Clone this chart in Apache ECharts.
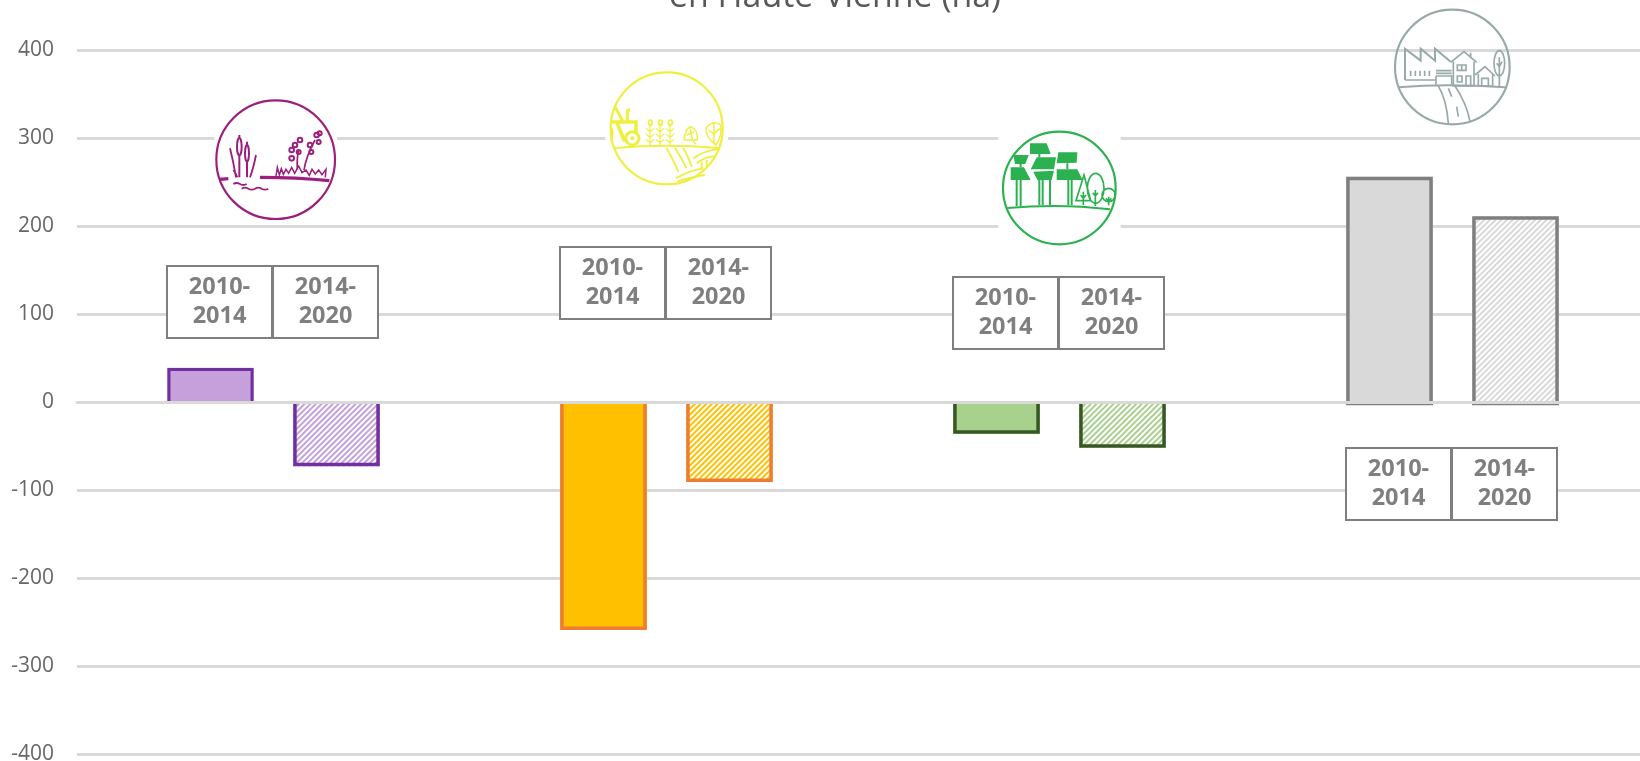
<!DOCTYPE html>
<html>
<head>
<meta charset="utf-8">
<title>en Haute-Vienne (ha)</title>
<script src="https://cdn.jsdelivr.net/npm/echarts@6/dist/echarts.min.js"></script>
<style>
  html, body { margin: 0; padding: 0; background: #fff; overflow: hidden; }
  #chart { width: 1640px; height: 761px; }
</style>
</head>
<body>
<div id="chart"></div>
<script>
var categories = ['Zones humides', 'Terres agricoles', 'Forêts', 'Sols artificialisés']
var values2010 = [39, -259, -36, 256]
var values2014 = [-73, -91, -52, 211]
var periodLabels = ['2010-\n2014', '2014-\n2020']
var fills = ['#C5A0DB', '#FFC000', '#A9D18E', '#D9D9D9']
var borders = ['#7030A0', '#ED7D31', '#385723', '#7F7F7F']

var barWidth = 86.6
var barOffset = 63 // from category centre to bar centre
var outlineWidth = 3.5

// legend boxes: left edge, top edge (one pair per group)
var boxes = [[167, 266], [560, 247], [953, 277], [1346, 448]]

var icons = [
  {
    origin: [200, 90], color: '#9C1F7E', center: [227, 209], r: 178, halo: [-184, -130, 368, 262],
    stroke: [
      [10, 'M180 262 Q290 262 388 272 M60 268 L85 266'],
      [6, 'M111 170 a7 26 0 1 0 14 0 a7 26 0 1 0 -14 0 M118 135 V145 M118 196 V262 M135 190 a6 25 0 1 0 12 0 a6 25 0 1 0 -12 0 M141 155 V165 M141 215 V262'],
      [5.5, 'M90 175 Q100 215 108 262 M168 195 Q160 235 150 262 M100 240 Q108 250 112 262 M100 282 q10 -6 20 0 t20 0 M125 296 q10 -6 20 0 t20 0 t20 0 t20 0'],
      [4.5, 'M228 258 L232 232 L238 255 L244 236 L250 253 L258 238 L266 250 L275 232 L284 250 L296 228 L306 248 L318 240 L328 256 L336 238 L346 252 L356 240 L366 254 L378 238 L376 262'],
      [5, 'M292 238 Q290 205 296 180 M312 240 Q318 200 345 150'],
      [6, 'M293 150 a7 7 0 1 0 14 0 a7 7 0 1 0 -14 0 M278 165 a7 7 0 1 0 14 0 a7 7 0 1 0 -14 0 M268 180 a7 7 0 1 0 14 0 a7 7 0 1 0 -14 0 M268 205 a7 7 0 1 0 14 0 a7 7 0 1 0 -14 0 M290 186 a6 6 0 1 0 12 0 a6 6 0 1 0 -12 0 M343 135 a7 7 0 1 0 14 0 a7 7 0 1 0 -14 0 M353 130 a6 6 0 1 0 12 0 a6 6 0 1 0 -12 0 M323 165 a7 7 0 1 0 14 0 a7 7 0 1 0 -14 0 M328 186 a6 6 0 1 0 12 0 a6 6 0 1 0 -12 0 M350 156 a6 6 0 1 0 12 0 a6 6 0 1 0 -12 0']
    ],
    fill: []
  },
  {
    origin: [590, 60], color: '#EFEF3F', center: [230, 205], r: 168, halo: [-184, -80, 368, 160],
    stroke: [
      [6, 'M75 264 Q230 250 385 264'],
      [11, 'M64 186 H138 V222 M82 190 L102 240 H112'],
      [9, 'M75 140 L98 183 M112 183 V155 Q112 148 120 150 M107 235 a20 20 0 1 0 40 0 a20 20 0 1 0 -40 0'],
      [3.5, 'M180 255 V190 M210 255 V190 M240 255 V190 M168 205 L180 215 L192 205 M168 222 L180 232 L192 222 M168 238 L180 248 L192 238 M198 205 L210 215 L222 205 M198 222 L210 232 L222 222 M198 238 L210 248 L222 238 M228 205 L240 215 L252 205 M228 222 L240 232 L252 222 M228 238 L240 248 L252 238'],
      [4.5, 'M175 188 a6 8 0 1 0 12 0 a6 8 0 1 0 -12 0 M205 188 a6 8 0 1 0 12 0 a6 8 0 1 0 -12 0 M235 188 a6 8 0 1 0 12 0 a6 8 0 1 0 -12 0'],
      [4.5, 'M282 240 Q285 205 302 200 Q325 210 322 240 Q300 240 282 240 M300 205 L308 240 M290 225 L312 215 M310 240 Q312 252 318 252 M372 188 Q345 195 348 215 Q355 240 378 255 Q398 225 392 195 Q385 188 372 188 M372 190 V250 M355 210 L372 222 M390 205 L372 222'],
      [5.5, 'M230 264 Q250 300 265 335 M255 264 Q275 295 290 325 M280 264 Q295 290 305 320 M258 355 Q300 330 340 325 M262 364 Q310 350 345 345 M310 295 Q345 270 385 268 M320 310 Q355 285 375 290 M335 305 V328 M350 300 V325']
    ],
    fill: ['M62 195 Q80 218 62 250 Z', 'M121 235 a6 6 0 1 0 12 0 a6 6 0 1 0 -12 0']
  },
  {
    origin: [980, 120], color: '#2BB14F', center: [238, 204], r: 169, halo: [-184, -184, 368, 368],
    stroke: [
      [6, 'M82 264 Q240 250 390 268'],
      [6, 'M110 180 V258 M122 180 V258 M178 180 V255 M188 180 V255 M210 180 V255 M265 180 V255 M275 180 V255 M178 102 V112 M122 132 V142 M262 130 V148'],
      [5, 'M312 165 L288 242 L332 242 Z M322 205 a25 45 0 1 0 50 0 a25 45 0 1 0 -50 0 M366 225 a20 20 0 1 0 40 0 a20 20 0 1 0 -40 0'],
      [5, 'M310 215 V255 M346 210 V258 M386 230 V256 M302 225 L310 235 L318 225 M338 218 L346 228 L354 218 M378 235 L386 245 L394 235']
    ],
    fill: [
      'M150 70 L200 70 L212 102 L150 102 Z', 'M100 105 L146 105 L136 132 L105 132 Z',
      'M92 142 L132 142 L152 180 L92 180 Z', 'M170 112 L228 112 L222 148 L152 148 Z',
      'M235 97 L292 97 L290 128 L230 130 Z', 'M160 155 L222 152 L215 180 L172 180 Z',
      'M230 148 L292 148 L308 180 L230 180 Z'
    ]
  },
  {
    origin: [1380, 0], color: '#98A9A9', center: [217, 201], r: 172, halo: [-184, -30, 368, 60],
    stroke: [
      [6, 'M55 262 Q200 250 375 262 M75 240 V146 L122 182 V146 L165 182 V146 L212 185'],
      [5, 'M92 212 V228 M106 212 V228 M120 212 V228 M134 212 V228 M148 212 V228 M75 240 H168 M168 212 H215 M168 220 H215 M168 228 H215 V255 M168 228 V258'],
      [5, 'M212 187 L252 155 L290 187 M220 185 V258 H282 V185 M232 195 h26 v16 h-26 Z M245 195 V211 M232 228 h14 v18 h-14 Z M258 258 V228 H272 V258 M272 158 V172'],
      [5, 'M285 225 L315 200 L345 228 M295 222 V258 H338 V222 M305 258 V235 H325 V258'],
      [5, 'M342 190 a16 38 0 1 0 32 0 a16 38 0 1 0 -32 0 M358 172 V258 M350 190 L358 200 L366 185'],
      [5, 'M175 258 Q200 300 205 370 M225 258 Q260 310 270 365 M205 265 L215 290 M230 320 L235 350']
    ],
    fill: []
  }
]

// graphic has no plain svg path type here, so register one shape per path string
var shapeCount = 0
function pathType (d) {
  var name = 'iconPath' + shapeCount++
  echarts.graphic.registerShape(name, echarts.graphic.extendPath(d, {}))
  return name
}

function iconGraphic (icon) {
  var paths = []
  icon.fill.forEach(function (d) {
    paths.push({ type: pathType(d), z: 6, style: { fill: icon.color, stroke: null } })
  })
  var all = icon.stroke.concat([[6.5, 'M' + (icon.center[0] - icon.r) + ' ' + icon.center[1] +
    ' a' + icon.r + ' ' + icon.r + ' 0 1 0 ' + icon.r * 2 + ' 0 a' + icon.r + ' ' + icon.r + ' 0 1 0 ' + -icon.r * 2 + ' 0']])
  all.forEach(function (s) {
    paths.push({ type: pathType(s[1]), z: 6, style: { fill: null, stroke: icon.color, lineWidth: s[0] } })
  })
  // white patch that cuts the gridlines around the icon
  var cx = icon.origin[0] + icon.center[0] / 3
  var cy = icon.origin[1] + icon.center[1] / 3
  return [
    { type: 'rect', z: 5, shape: { x: cx + icon.halo[0] / 3, y: cy + icon.halo[1] / 3, width: icon.halo[2] / 3, height: icon.halo[3] / 3 }, style: { fill: '#fff' } },
    { type: 'group', x: icon.origin[0], y: icon.origin[1], scaleX: 1 / 3, scaleY: 1 / 3, children: paths }
  ]
}

function boxGraphic (pos) {
  var out = []
  periodLabels.forEach(function (label, i) {
    out.push({
      type: 'rect', z: 7,
      shape: { x: pos[0] + i * 106, y: pos[1], width: 105, height: 72 },
      style: { fill: '#fff', stroke: '#7F7F7F', lineWidth: 2 }
    })
    out.push({
      type: 'text', z: 8, x: pos[0] + i * 106 + 52.5, y: pos[1] + 36,
      style: { text: label, fill: '#7F7F7F', font: 'bold 23.5px "Open Sans"', lineHeight: 29, align: 'center', verticalAlign: 'middle' }
    })
  })
  return out
}

function barData (values, hatched) {
  return values.map(function (v, i) {
    var style = { color: hatched ? '#fff' : fills[i], borderWidth: 0 }
    if (hatched) {
      style.decal = { symbol: 'rect', symbolSize: 1, color: fills[i], dashArrayX: [1, 0], dashArrayY: [2, 2], rotation: -Math.PI / 4 }
    }
    return { value: v, itemStyle: style }
  })
}

// three sided outline, the side on the zero line stays open as in the original chart
function outline (i, value, dx, api) {
  var c = api.coord([i, 0])
  var end = api.coord([i, value])
  var half = barWidth / 2 - outlineWidth / 2
  var x = c[0] + dx
  var y = end[1] + (value > 0 ? outlineWidth / 2 : -outlineWidth / 2)
  var w = i === 0 && dx < 0 ? 3 : outlineWidth
  var children = [{
    type: 'polyline',
    shape: { points: [[x - half, c[1]], [x - half, y], [x + half, y], [x + half, c[1]]] },
    style: { fill: 'none', stroke: borders[i], lineWidth: w }
  }]
  if (i === 3) {
    // the grey pair also shows a closing line just under the axis
    children.push({
      type: 'line',
      shape: { x1: x - half - 2, y1: c[1] + 2.5, x2: x + half + 2, y2: c[1] + 2.5 },
      style: { stroke: borders[i], lineWidth: 1.5 }
    })
  }
  return children
}

var graphics = []
icons.forEach(function (ic) { graphics = graphics.concat(iconGraphic(ic)) })
boxes.forEach(function (b) { graphics = graphics.concat(boxGraphic(b)) })

var chart = echarts.init(document.getElementById('chart'))
chart.setOption({
  animation: false,
  backgroundColor: '#fff',
  title: {
    text: 'en Haute-Vienne (ha)',
    left: 830,
    top: -25,
    textAlign: 'center',
    textStyle: { fontFamily: 'Open Sans', fontWeight: 'normal', fontSize: 33.9, color: '#595959' }
  },
  grid: { left: 77, top: 50, width: 1572, height: 704, containLabel: false, outerBoundsMode: 'none' },
  xAxis: {
    type: 'category',
    z: 3,
    data: categories,
    axisTick: { show: false },
    axisLabel: { show: false },
    axisLine: { lineStyle: { color: '#D9D9D9', width: 3 } }
  },
  yAxis: {
    type: 'value',
    min: -400,
    max: 400,
    interval: 100,
    axisLine: { show: false },
    axisTick: { show: false },
    axisLabel: { margin: 23, fontFamily: 'Open Sans', fontSize: 21, color: '#666666' },
    splitLine: { lineStyle: { color: '#D9D9D9', width: 3 } }
  },
  series: [
    { name: '2010-2014', type: 'bar', z: 1, barWidth: barWidth, barGap: '45.5%', data: barData(values2010, false) },
    { name: '2014-2020', type: 'bar', z: 1, barWidth: barWidth, barGap: '45.5%', data: barData(values2014, true) },
    {
      name: 'contours',
      type: 'custom',
      z: 2,
      silent: true,
      clip: false,
      encode: { x: 0, y: [1, 2] },
      data: categories.map(function (c, i) { return [i, values2010[i], values2014[i]] }),
      renderItem: function (params, api) {
        var i = api.value(0)
        return {
          type: 'group',
          children: outline(i, api.value(1), -barOffset, api).concat(outline(i, api.value(2), barOffset, api))
        }
      }
    }
  ],
  graphic: { elements: graphics }
})
</script>
</body>
</html>
